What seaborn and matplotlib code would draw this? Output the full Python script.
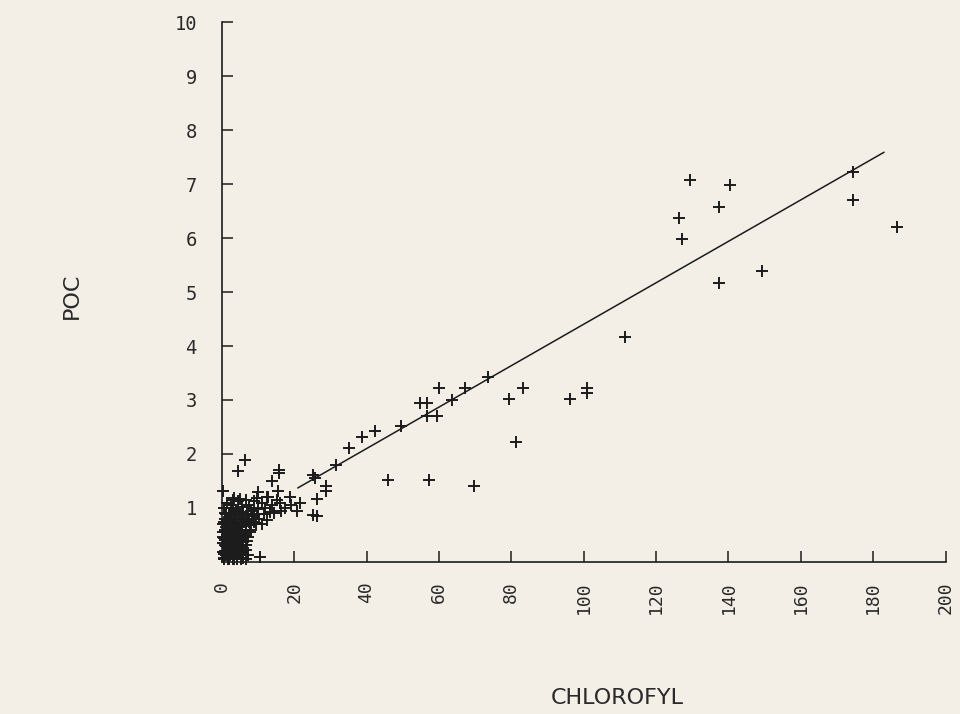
import matplotlib
matplotlib.use("Agg")
import matplotlib.pyplot as plt
import seaborn as sns
import pandas as pd

# ---- data ----
# scattered points (CHLOROFYL, POC)
chl_main = [129.3, 140.3, 126.2, 137.3, 127.3, 174.3, 174.3, 186.7, 137.3, 149.4, 111.3,
            31.5, 35.1, 38.7, 42.3, 49.4, 54.7, 56.6, 56.6, 59.4, 59.9, 63.5, 67.1, 73.5,
            79.3, 83.1, 96.1, 100.8, 100.8, 81.2, 45.9, 57.2, 69.6,
            6.4, 4.4, 15.7, 15.9, 13.8, 0.3, 25.1, 25.7, 28.7, 28.7, 26.2, 21.5, 20.7,
            25.1, 26.2, 18.8, 15.5, 15.2, 12.4, 10.0, 5.0, 3.0, 10.5]
poc_main = [7.07, 6.98, 6.37, 6.57, 5.98, 7.22, 6.70, 6.20, 5.17, 5.39, 4.17,
            1.80, 2.11, 2.31, 2.43, 2.52, 2.94, 2.94, 2.70, 2.70, 3.22, 3.00, 3.22, 3.43,
            3.02, 3.22, 3.02, 3.22, 3.13, 2.22, 1.52, 1.52, 1.41,
            1.89, 1.69, 1.70, 1.64, 1.50, 1.31, 1.61, 1.55, 1.41, 1.31, 1.17, 1.09, 0.95,
            0.87, 0.85, 1.20, 1.31, 1.15, 1.20, 1.30, 1.17, 1.15, 0.09]

# dense cluster near the origin
chl_cluster = [0.5, 1.2, 2.0, 2.8, 3.5, 4.3, 5.1, 6.0, 7.2, 1.6, 3.0, 4.8, 0.8, 2.3, 5.8, 6.8,
               0.4, 1.0, 1.5, 2.1, 2.7, 3.2, 3.9, 4.5, 5.3, 6.2, 7.0, 7.8, 0.9,
               2.4, 3.6, 5.0, 6.6, 1.8, 4.1,
               0.3, 0.8, 1.3, 1.9, 2.5, 3.1, 3.7, 4.4, 5.1, 5.7, 6.4, 7.1, 7.9, 8.6, 9.4,
               10.2, 11.0, 11.8, 12.6, 13.4, 2.0, 4.0, 6.0, 8.0, 10.0, 12.0,
               0.5, 1.5, 2.6, 3.5, 4.6, 5.6, 6.8, 7.5, 8.8, 9.8, 11.2, 12.8, 14.0, 16.0,
               17.5, 19.0, 3.0, 9.0, 14.5, 16.5,
               0.6, 1.1, 1.7, 2.2, 2.9, 3.4, 4.2, 4.9, 5.5, 0.4, 1.4, 2.6, 3.8, 4.6, 1.0,
               2.0, 3.2, 0.7, 1.9, 5.4,
               0.6, 1.8, 3.0, 4.2, 5.4, 6.6,
               0.3, 1.4, 2.5, 3.6, 4.7, 5.9,
               0.9, 2.0, 3.1, 4.3, 5.5, 6.7,
               0.4, 1.5, 2.6, 3.7, 4.9, 6.1, 7.3,
               1.0, 2.1, 3.3, 4.4, 5.6, 6.8, 8.0,
               0.5, 1.6, 2.7, 3.9, 5.0, 6.2, 7.4, 8.8,
               1.1, 2.2, 3.4, 4.6, 5.8, 7.0, 8.3, 9.6]
poc_cluster = [0.08, 0.12, 0.06, 0.15, 0.05, 0.10, 0.18, 0.07, 0.12, 0.25, 0.28, 0.30, 0.20,
               0.22, 0.26, 0.22,
               0.35, 0.40, 0.50, 0.38, 0.45, 0.55, 0.40, 0.50, 0.42, 0.48, 0.38, 0.55,
               0.58, 0.60, 0.35, 0.60, 0.58, 0.32, 0.62,
               0.70, 0.80, 0.65, 0.75, 0.85, 0.70, 0.80, 0.72, 0.88, 0.70, 0.80, 0.75, 0.68,
               0.85, 0.72, 0.80, 0.70, 0.88, 0.78, 0.92, 0.90, 0.95, 0.92, 0.95, 0.98, 1.00,
               1.00, 1.10, 1.05, 1.18, 1.12, 1.02, 1.15, 1.05, 1.12, 1.18, 1.10, 1.20, 1.05,
               1.10, 1.00, 1.05, 1.00, 1.00, 0.90, 0.95,
               0.15, 0.30, 0.45, 0.12, 0.35, 0.65, 0.25, 0.40, 0.15, 0.55, 0.75, 0.30, 0.55,
               0.20, 0.90, 0.50, 0.10, 0.45, 0.62, 0.80,
               0.05, 0.05, 0.05, 0.05, 0.05, 0.05,
               0.18, 0.18, 0.18, 0.18, 0.18, 0.18,
               0.32, 0.32, 0.32, 0.32, 0.32, 0.32,
               0.46, 0.46, 0.46, 0.46, 0.46, 0.46, 0.46,
               0.60, 0.60, 0.60, 0.60, 0.60, 0.60, 0.60,
               0.74, 0.74, 0.74, 0.74, 0.74, 0.74, 0.74, 0.74,
               0.88, 0.88, 0.88, 0.88, 0.88, 0.88, 0.88, 0.88]

# regression line end points
line_chl = [21.0, 183.0]
line_poc = [1.37, 7.59]

x_ticks = [0, 20, 40, 60, 80, 100, 120, 140, 160, 180, 200]
x_tick_labels = ["0", "20", "40", "60", "80", "100", "120", "140", "160", "180", "200"]
y_ticks = [1, 2, 3, 4, 5, 6, 7, 8, 9, 10]
y_tick_labels = ["1", "2", "3", "4", "5", "6", "7", "8", "9", "10"]

x_label = "CHLOROFYL"
y_label = "POC"

# ---- drawing ----
sns.set_style("ticks")
plt.rcParams["font.family"] = ["DejaVu Sans Mono", "DejaVu Sans"]
paper = "#f3efe6"
ink = "#1c1c1c"
text_ink = "#2a2a2a"

df = pd.DataFrame({"chl": chl_main + chl_cluster, "poc": poc_main + poc_cluster})

fig = plt.figure(figsize=(9.6, 7.14), dpi=100, facecolor=paper)
ax = fig.add_axes([0.231, 0.213, 0.754, 0.756])
ax.set_facecolor(paper)

sns.scatterplot(data=df, x="chl", y="poc", marker="+", s=80, color=ink,
                linewidth=1.4, ax=ax, zorder=3, clip_on=False)
sns.lineplot(x=line_chl, y=line_poc, color=ink, linewidth=1.1, ax=ax, zorder=2)

ax.set_xlim(0, 200)
ax.set_ylim(0, 10)
sns.despine(ax=ax)
for sp in ("left", "bottom"):
    ax.spines[sp].set_color(ink)
    ax.spines[sp].set_linewidth(1.2)

ax.set_xticks(x_ticks)
ax.set_xticklabels(x_tick_labels, rotation=90, fontsize=13, color=text_ink)
ax.set_yticks(y_ticks)
ax.set_yticklabels(y_tick_labels, fontsize=13.5, color=text_ink)
ax.tick_params(axis="x", direction="in", length=8, width=1.1, pad=14, colors=ink,
               labelcolor=text_ink)
ax.tick_params(axis="y", direction="in", length=8, width=1.1, pad=18, colors=ink,
               labelcolor=text_ink)

ax.set_xlabel(x_label, fontsize=16, color=text_ink, family="DejaVu Sans")
ax.set_ylabel(y_label, fontsize=16, color=text_ink, family="DejaVu Sans")
ax.xaxis.set_label_coords(0.546, -0.234)
ax.yaxis.set_label_coords(-0.193, 0.493)

fig.savefig("out.png", dpi=100, facecolor=paper)
